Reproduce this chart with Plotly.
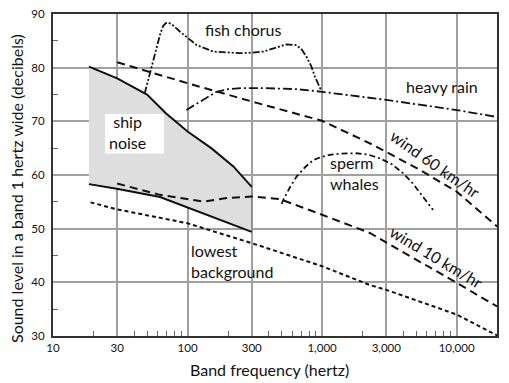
import numpy as np
import plotly.graph_objects as go

# ---------------- data ----------------
ship_top_x = [18.5, 30, 50, 69, 100, 150, 219, 300]
ship_top_y = [80.2, 78.0, 75.0, 71.5, 68.1, 65.0, 61.6, 57.8]
ship_bot_x = [18.5, 30.5, 62.4, 104, 174, 300]
ship_bot_y = [58.3, 57.4, 55.9, 53.8, 51.6, 49.4]

wind60_x = [30, 100, 300, 1000, 2400, 5330, 10000, 20000]
wind60_y = [81.0, 77.1, 73.7, 70.1, 65.6, 60.95, 56.9, 50.4]

wind10_x = [30, 62.4, 131, 195, 300, 486, 1000, 2265, 10000, 20000]
wind10_y = [58.4, 56.3, 55.05, 55.7, 56.0, 55.5, 52.6, 49.2, 39.9, 35.5]

lowest_x = [19, 30, 100, 245, 300, 1000, 2265, 3000, 10000, 20000]
lowest_y = [54.9, 53.6, 51.0, 48.0, 47.3, 43.0, 39.5, 38.6, 34.0, 30.1]

fish_x = [48, 57, 63, 66, 69, 72, 77, 88, 100, 117, 155, 200, 245, 300,
          365, 450, 544, 646, 710, 767, 830, 885, 940, 980]
fish_y = [75.2, 82.7, 86.5, 87.8, 88.3, 88.4, 88.0, 86.7, 85.6, 84.2, 83.0,
          82.8, 82.7, 82.8, 83.0, 83.7, 84.35, 84.2, 83.3, 82.0, 80.3, 78.3,
          76.8, 75.85]

rain_x = [98, 130, 164, 200, 259, 350, 646, 1000, 3000, 10000, 20000]
rain_y = [72.1, 74.0, 75.5, 76.0, 76.2, 76.2, 76.0, 75.5, 74.0, 72.1, 70.8]

whale_x = [500, 520, 580, 646, 750, 860, 1000, 1143, 1400, 1803, 2200, 2690,
           3300, 4010, 4700, 5330, 6000, 6680]
whale_y = [54.6, 55.6, 57.8, 59.7, 61.5, 62.8, 63.4, 63.75, 64.0, 64.05, 63.8,
           63.1, 62.0, 60.3, 58.5, 56.6, 55.0, 53.5]

x_ticks = [10, 30, 100, 300, 1000, 3000, 10000]
x_tick_text = ["10", "30", "100", "300", "1,000", "3,000", "10,000"]
x_minor = [20, 40, 50, 60, 70, 80, 90, 200, 400, 500, 600, 700, 800, 900,
           2000, 4000, 5000, 6000, 7000, 8000, 9000, 20000]
y_ticks = [30, 40, 50, 60, 70, 80, 90]
y_minor = [35, 45, 55, 65, 75, 85]

labels = [
    # text, x, y, angle, anchor
    ("fish chorus", 258, 87.2, 0, "center"),
    ("heavy rain", 7730, 76.5, 0, "center"),
    ("wind 60 km/hr", 6890, 62.1, 35, "center"),
    ("sperm<br>whales", 1109, 60.4, 0, "left"),
    ("wind 10 km/hr", 7000, 44.75, 31, "center"),
    ("lowest<br>background", 103, 43.95, 0, "left"),
    ("ship<br>noise", 35.8, 68.1, 0, "center"),
]

FONT = "Lato"
BLACK = "#111"

fig = go.Figure()

# ship noise shaded band
fig.add_trace(go.Scatter(
    x=ship_top_x + ship_bot_x[::-1], y=ship_top_y + ship_bot_y[::-1],
    fill="toself", fillcolor="#dedede", mode="lines",
    line=dict(color="#666", width=0.8), hoverinfo="skip", showlegend=False))

def add_line(x, y, dash, width=2.0):
    fig.add_trace(go.Scatter(x=x, y=y, mode="lines",
                             line=dict(color=BLACK, width=width, dash=dash),
                             showlegend=False))

add_line(ship_top_x, ship_top_y, "solid", 2.0)
add_line(ship_bot_x, ship_bot_y, "solid", 2.0)
add_line(wind60_x, wind60_y, "8px,5px", 2.0)
add_line(wind10_x, wind10_y, "8px,5px", 2.0)
add_line(lowest_x, lowest_y, "4px,3px", 2.0)
add_line(fish_x, fish_y, "7px,2px,2px,2px,2px,2px", 1.8)
add_line(rain_x, rain_y, "9px,3px,2px,3px", 1.8)
add_line(whale_x, whale_y, "6px,3px,2px,3px", 1.8)

# white box behind the "ship noise" label (paper coords of the plot area)
fig.add_shape(type="rect", xref="paper", yref="paper",
              x0=(105 - 53) / 444, x1=(164 - 53) / 444,
              y0=(336 - 153.5) / 322, y1=(336 - 114) / 322,
              fillcolor="white", line=dict(width=0), layer="above")

for text, x, y, ang, anch in labels:
    fig.add_annotation(x=np.log10(x), y=y, xref="x", yref="y", text=text,
                       showarrow=False, textangle=ang, xanchor=anch,
                       yanchor="middle", align=anch if anch == "left" else "center",
                       font=dict(family=FONT, size=16, color=BLACK))

# axis titles (paper coords relative to the plot area)
fig.add_annotation(x=(269 - 53) / 444, y=(336 - 369) / 322, xref="paper", yref="paper",
                   text="Band frequency (hertz)", showarrow=False,
                   xanchor="center", yanchor="middle",
                   font=dict(family=FONT, size=16, color=BLACK))
fig.add_annotation(x=(16 - 53) / 444, y=(336 - 189) / 322, xref="paper", yref="paper",
                   text="Sound level in a band 1 hertz wide (decibels)", showarrow=False,
                   textangle=-90, xanchor="center", yanchor="middle",
                   font=dict(family=FONT, size=16, color=BLACK))

# the page body has an 8px margin, so the figure is sized to fit the window
fig.update_layout(
    width=501, height=375,
    margin=dict(l=45, r=12, t=6, b=47),
    paper_bgcolor="white", plot_bgcolor="white",
    font=dict(family=FONT, size=12, color=BLACK),
    xaxis=dict(type="log", range=[1, 4.3], tickvals=x_ticks, ticktext=x_tick_text,
               ticks="", showgrid=True, gridcolor="#a0a0a0", gridwidth=1.5,
               showline=True, mirror=True, linecolor="#333", linewidth=2,
               zeroline=False, tickfont=dict(family=FONT, size=11.5),
               automargin=False, ticklabeloverflow="allow",
               minor=dict(tickvals=x_minor, ticks="inside", ticklen=5,
                          tickwidth=1, tickcolor="#666", showgrid=False)),
    yaxis=dict(range=[30, 90], tickvals=y_ticks, ticks="",
               showgrid=True, gridcolor="#a0a0a0", gridwidth=1.5,
               showline=True, mirror=True, linecolor="#333", linewidth=2,
               zeroline=False, tickfont=dict(family=FONT, size=11.5),
               ticklabelstandoff=4, automargin=False, ticklabeloverflow="allow",
               minor=dict(tickvals=y_minor, ticks="inside", ticklen=5,
                          tickwidth=1, tickcolor="#666", showgrid=False)),
)

fig.write_html("out.html")
